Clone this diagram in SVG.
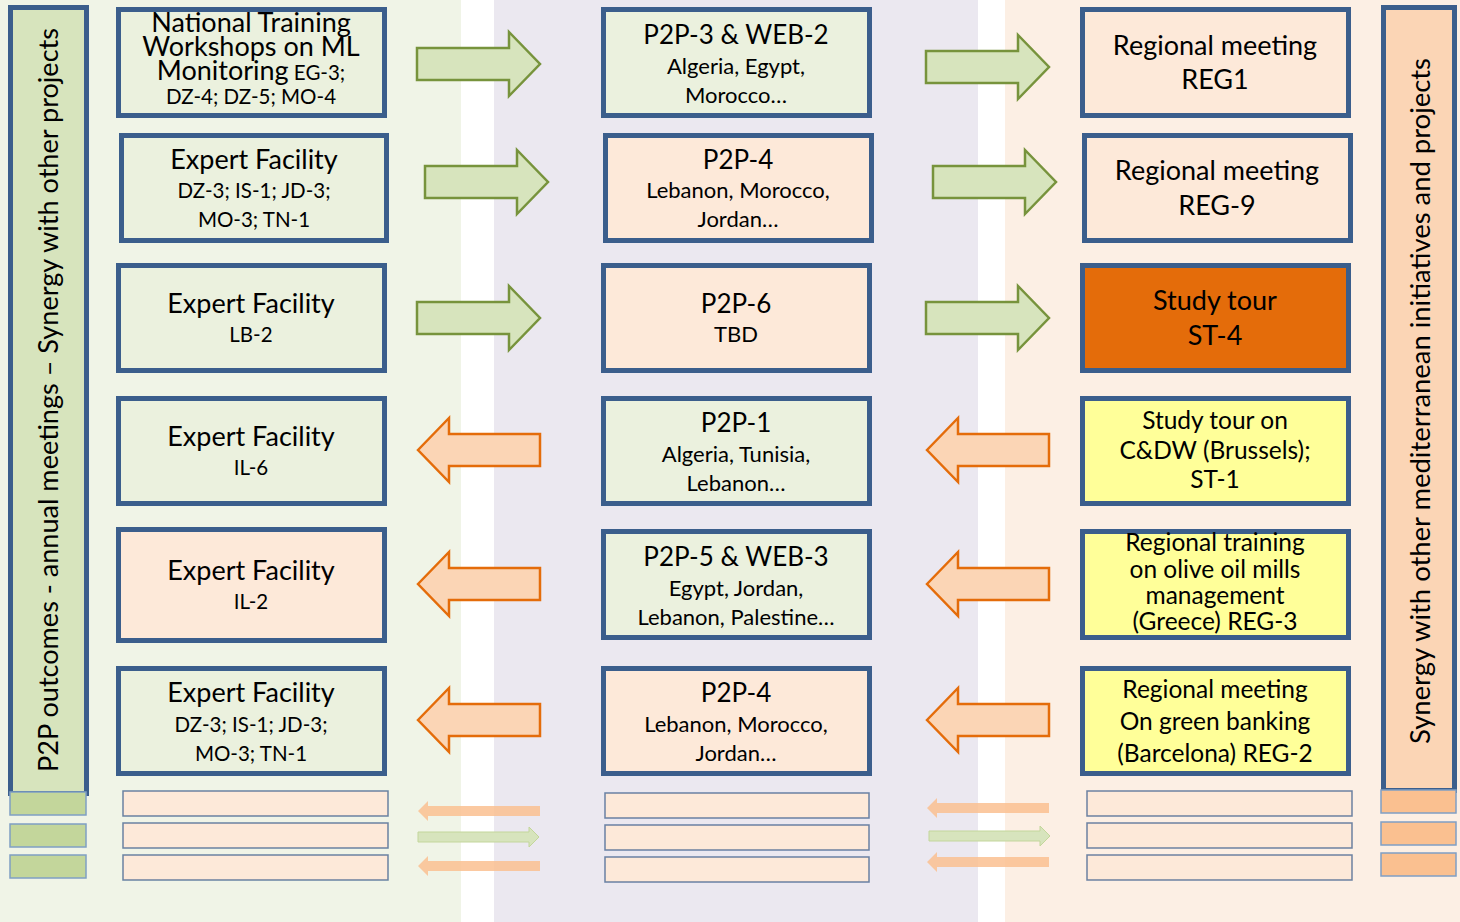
<svg xmlns="http://www.w3.org/2000/svg" width="1460" height="922" viewBox="0 0 1460 922">
<style>
text{font-family:Lato,"Open Sans","Liberation Sans",sans-serif;fill:#000;text-anchor:middle}
.t{font-size:26px}
.tt{font-size:27px}
.s{font-size:20.5px}
.m{font-size:22px}
.y{font-size:24.5px}
.box{stroke:#3b5e8c;stroke-width:5}
.g{fill:#ebf1de}
.p{fill:#fde9d9}
.ga{fill:#d7e4bd;stroke:#77933c;stroke-width:2.5}
.oa{fill:#fbd5b5;stroke:#e46c0a;stroke-width:2.5}
.sm{stroke:#3b5e8c;stroke-width:1.5;stroke-opacity:0.75}
.sg{fill:#c3d69b;stroke:#7f9fc4;stroke-width:1.5}
.so{fill:#fac090;stroke:#7f9fc4;stroke-width:1.5}
.boa{fill:#fac090;opacity:0.85}
.bga{fill:#d7e4bd;stroke:#c3d69b;stroke-width:1}
</style>
<defs>
<path id="ar" d="M0,-16 H92 V-32 L123,0 L92,32 V16 H0 Z"/>
<path id="al" d="M0,0 L31,-32 V-16 H122 V16 H31 V32 Z"/>
<path id="sal" d="M0,0 L10,-10 V-5 H122 V5 H10 V10 Z"/>
<path id="sar" d="M0,-5 H111 V-10 L121,0 L111,10 V5 H0 Z"/>
</defs>
<g id="background">
<rect x="0" y="0" width="461" height="922" fill="#f0f4e7"/>
<rect x="461" y="0" width="33" height="922" fill="#ffffff"/>
<rect x="494" y="0" width="484" height="922" fill="#ebe8f0"/>
<rect x="978" y="0" width="27" height="922" fill="#ffffff"/>
<rect x="1005" y="0" width="455" height="922" fill="#fcefe4"/>
</g>
<g id="left-bar">
<rect class="box" x="10.5" y="7.5" width="76" height="786" fill="#d7e4bd"/>
<text class="t" transform="translate(58,400) rotate(-90)" textLength="744" lengthAdjust="spacingAndGlyphs">P2P outcomes - annual meetings – Synergy with other projects</text>
</g>
<g id="right-bar">
<rect class="box" x="1383.5" y="7.5" width="71" height="783" fill="#fbd5b5"/>
<text class="t" transform="translate(1430,401) rotate(-90)" textLength="686" lengthAdjust="spacingAndGlyphs">Synergy with other mediterranean initiatives and projects</text>
</g>
<g id="connectors">
<use href="#ar" x="417" y="64" class="ga"/>
<use href="#ar" x="926" y="67" class="ga"/>
<use href="#ar" x="425" y="182" class="ga"/>
<use href="#ar" x="933" y="182" class="ga"/>
<use href="#ar" x="417" y="318" class="ga"/>
<use href="#ar" x="926" y="318" class="ga"/>
<use href="#al" x="418" y="450" class="oa"/>
<use href="#al" x="927" y="450" class="oa"/>
<use href="#al" x="418" y="584" class="oa"/>
<use href="#al" x="927" y="584" class="oa"/>
<use href="#al" x="418" y="720" class="oa"/>
<use href="#al" x="927" y="720" class="oa"/>
<use href="#sal" x="418" y="811" class="boa"/>
<use href="#sar" x="418" y="837" class="bga"/>
<use href="#sal" x="418" y="866" class="boa"/>
<use href="#sal" x="927" y="808" class="boa"/>
<use href="#sar" x="929" y="836" class="bga"/>
<use href="#sal" x="927" y="862" class="boa"/>
</g>
<g id="n-l1">
<rect class="box g" x="118.5" y="9.5" width="266" height="106"/>
<text class="tt" x="251" y="32">National Training</text>
<text class="tt" x="251" y="56">Workshops on ML</text>
<text x="251" y="80"><tspan class="tt">Monitoring</tspan><tspan class="s"> EG-3;</tspan></text>
<text class="s" x="251" y="104">DZ-4; DZ-5; MO-4</text>
</g>
<g id="n-m1">
<rect class="box g" x="603.5" y="9.5" width="266" height="106"/>
<text class="t" x="736" y="44">P2P-3 &amp; WEB-2</text>
<text class="m" x="736" y="74">Algeria, Egypt,</text>
<text class="m" x="736" y="103">Morocco…</text>
</g>
<g id="n-r1">
<rect class="box p" x="1082.5" y="9.5" width="266" height="106"/>
<text class="tt" x="1215" y="55">Regional meeting</text>
<text class="tt" x="1215" y="89">REG1</text>
</g>
<g id="n-l2">
<rect class="box g" x="121.5" y="135.5" width="265" height="105"/>
<text class="tt" x="254" y="169">Expert Facility</text>
<text class="s" x="254" y="198">DZ-3; IS-1; JD-3;</text>
<text class="s" x="254" y="227">MO-3; TN-1</text>
</g>
<g id="n-m2">
<rect class="box p" x="605.5" y="135.5" width="266" height="105"/>
<text class="t" x="738" y="169">P2P-4</text>
<text class="m" x="738" y="198">Lebanon, Morocco,</text>
<text class="m" x="738" y="227">Jordan…</text>
</g>
<g id="n-r2">
<rect class="box p" x="1084.5" y="135.5" width="266" height="105"/>
<text class="tt" x="1217" y="180">Regional meeting</text>
<text class="tt" x="1217" y="215">REG-9</text>
</g>
<g id="n-l3">
<rect class="box g" x="118.5" y="265.5" width="266" height="105"/>
<text class="tt" x="251" y="313">Expert Facility</text>
<text class="s" x="251" y="342">LB-2</text>
</g>
<g id="n-m3">
<rect class="box p" x="603.5" y="265.5" width="266" height="105"/>
<text class="t" x="736" y="313">P2P-6</text>
<text class="m" x="736" y="342">TBD</text>
</g>
<g id="n-r3">
<rect class="box" x="1082.5" y="265.5" width="266" height="105" fill="#e46c0a"/>
<text class="tt" x="1215" y="310">Study tour</text>
<text class="tt" x="1215" y="345">ST-4</text>
</g>
<g id="n-l4">
<rect class="box g" x="118.5" y="398.5" width="266" height="105"/>
<text class="tt" x="251" y="446">Expert Facility</text>
<text class="s" x="251" y="475">IL-6</text>
</g>
<g id="n-m4">
<rect class="box g" x="603.5" y="398.5" width="266" height="105"/>
<text class="t" x="736" y="432">P2P-1</text>
<text class="m" x="736" y="462">Algeria, Tunisia,</text>
<text class="m" x="736" y="491">Lebanon…</text>
</g>
<g id="n-r4">
<rect class="box" x="1082.5" y="398.5" width="266" height="105" fill="#ffff99"/>
<text class="y" x="1215" y="429">Study tour on</text>
<text class="y" x="1215" y="459">C&amp;DW (Brussels);</text>
<text class="y" x="1215" y="488">ST-1</text>
</g>
<g id="n-l5">
<rect class="box p" x="118.5" y="529.5" width="266" height="111"/>
<text class="tt" x="251" y="580">Expert Facility</text>
<text class="s" x="251" y="609">IL-2</text>
</g>
<g id="n-m5">
<rect class="box g" x="603.5" y="531.5" width="266" height="106"/>
<text class="t" x="736" y="566">P2P-5 &amp; WEB-3</text>
<text class="m" x="736" y="596">Egypt, Jordan,</text>
<text class="m" x="736" y="625">Lebanon, Palestine…</text>
</g>
<g id="n-r5">
<rect class="box" x="1082.5" y="531.5" width="266" height="106" fill="#ffff99"/>
<text class="y" x="1215" y="551">Regional training</text>
<text class="y" x="1215" y="578">on olive oil mills</text>
<text class="y" x="1215" y="604">management</text>
<text class="y" x="1215" y="630">(Greece) REG-3</text>
</g>
<g id="n-l6">
<rect class="box g" x="118.5" y="668.5" width="266" height="105"/>
<text class="tt" x="251" y="702">Expert Facility</text>
<text class="s" x="251" y="732">DZ-3; IS-1; JD-3;</text>
<text class="s" x="251" y="761">MO-3; TN-1</text>
</g>
<g id="n-m6">
<rect class="box p" x="603.5" y="668.5" width="266" height="105"/>
<text class="t" x="736" y="702">P2P-4</text>
<text class="m" x="736" y="732">Lebanon, Morocco,</text>
<text class="m" x="736" y="761">Jordan…</text>
</g>
<g id="n-r6">
<rect class="box" x="1082.5" y="668.5" width="266" height="105" fill="#ffff99"/>
<text class="y" x="1215" y="698">Regional meeting</text>
<text class="y" x="1215" y="730">On green banking</text>
<text class="y" x="1215" y="762">(Barcelona) REG-2</text>
</g>
<g id="legend-boxes">
<rect class="sg" x="10" y="792" width="76" height="23"/>
<rect class="sg" x="10" y="824" width="76" height="23"/>
<rect class="sg" x="10" y="855" width="76" height="23"/>
<rect class="sm p" x="123" y="791" width="265" height="25"/>
<rect class="sm p" x="123" y="823" width="265" height="25"/>
<rect class="sm p" x="123" y="855" width="265" height="25"/>
<rect class="sm p" x="605" y="793" width="264" height="25"/>
<rect class="sm p" x="605" y="825" width="264" height="25"/>
<rect class="sm p" x="605" y="857" width="264" height="25"/>
<rect class="sm p" x="1087" y="791" width="265" height="25"/>
<rect class="sm p" x="1087" y="823" width="265" height="25"/>
<rect class="sm p" x="1087" y="855" width="265" height="25"/>
<rect class="so" x="1381" y="790" width="75" height="23"/>
<rect class="so" x="1381" y="822" width="75" height="23"/>
<rect class="so" x="1381" y="853" width="75" height="23"/>
</g>
</svg>
